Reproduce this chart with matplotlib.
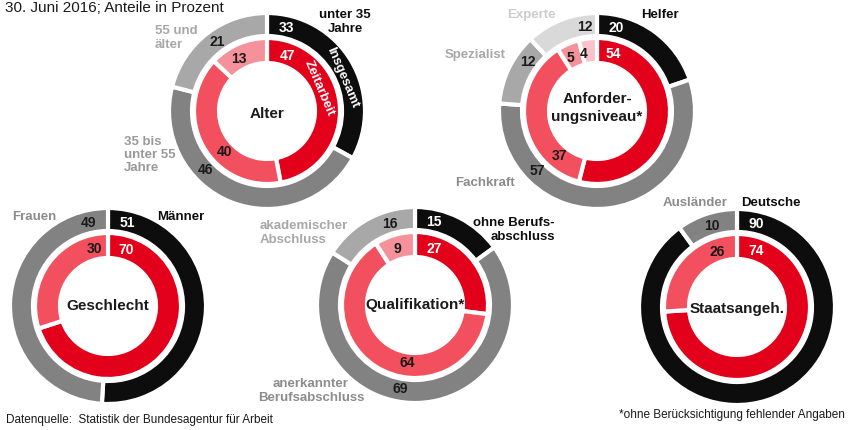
# Zeitarbeit vs. Insgesamt: Anteile in Prozent (Ringdiagramme)

import numpy as np
import matplotlib.pyplot as plt

plt.rcParams["font.family"] = ["Liberation Sans", "DejaVu Sans"]

# ==========================================
# DATOS
# ==========================================
alter_cats = ["unter 35\nJahre", "35 bis\nunter 55\nJahre", "55 und\nälter"]
alter_insgesamt = [33, 46, 21]
alter_zeitarbeit = [47, 40, 13]

anf_cats = ["Helfer", "Fachkraft", "Spezialist", "Experte"]
anf_insgesamt = [20, 57, 12, 12]
anf_zeitarbeit = [54, 37, 5, 4]

geschl_cats = ["Männer", "Frauen"]
geschl_insgesamt = [51, 49]
geschl_zeitarbeit = [70, 30]

quali_cats = ["ohne Berufs-\nabschluss", "anerkannter\nBerufsabschluss", "akademischer\nAbschluss"]
quali_insgesamt = [15, 69, 16]
quali_zeitarbeit = [27, 64, 9]

staat_cats = ["Deutsche", "Ausländer"]
staat_insgesamt = [90, 10]
staat_zeitarbeit = [74, 26]

# ==========================================
# ESTILO
# ==========================================
H = 430
R_OUT = 98
W_OUT = 23
R_IN = 73
W_IN = 25

grises = ["#0d0d0d", "#828282", "#a8a8a8", "#d9d9d9"]
rojos = ["#e2001a", "#f2505f", "#f4919b", "#f8c3c9"]
num_col = ["white", "#1a1a1a", "#1a1a1a", "#1a1a1a"]
txt_grey = ["#0d0d0d", "#8c8c8c", "#a8a8a8", "#cccccc"]

fig = plt.figure(figsize=(8.5, 4.3), dpi=100)
ax = fig.add_axes([0, 0, 1, 1])


def texto(x, y, s, **kw):
    # y en pixeles desde arriba
    ax.text(x, H - y, s, **kw)


def donut(cx, cy, outer, inner, centro, ang_out, ang_in, dy_txt=0):
    cyy = H - cy
    ax.pie(outer, colors=grises[:len(outer)], startangle=90, counterclock=False,
           center=(cx, cyy), radius=R_OUT,
           wedgeprops=dict(width=W_OUT, edgecolor="white", linewidth=3))
    ax.pie(inner, colors=rojos[:len(inner)], startangle=90, counterclock=False,
           center=(cx, cyy), radius=R_IN,
           wedgeprops=dict(width=W_IN, edgecolor="white", linewidth=3))
    for i, (v, a) in enumerate(zip(outer, ang_out)):
        t = np.radians(a)
        ax.text(cx + 85 * np.sin(t), cyy + 85 * np.cos(t), str(v),
                ha="center", va="center", fontsize=10, fontweight="bold",
                color=num_col[i])
    for i, (v, a) in enumerate(zip(inner, ang_in)):
        t = np.radians(a)
        ax.text(cx + 59 * np.sin(t), cyy + 59 * np.cos(t), str(v),
                ha="center", va="center", fontsize=10, fontweight="bold",
                color=num_col[i])
    ax.text(cx, cyy - dy_txt, centro, ha="center", va="center", fontsize=11,
            fontweight="bold", color="#1a1a1a", linespacing=1.3)


donut(267, 111, alter_insgesamt, alter_zeitarbeit, "Alter",
      [13, 226, 324], [20, 226, 331], dy_txt=3)
donut(597, 111, anf_insgesamt, anf_zeitarbeit, "Anforder-\nungsniveau*",
      [13, 225, 305, 352], [16, 220, 333, 347], dy_txt=-3)
donut(108, 306, geschl_insgesamt, geschl_zeitarbeit, "Geschlecht",
      [13, 347], [18, 347])
donut(415, 305, quali_insgesamt, quali_zeitarbeit, "Qualifikation*",
      [13, 190, 343], [19, 188, 343])
donut(737, 307, staat_insgesamt, staat_zeitarbeit, "Staatsangeh.",
      [13, 343], [19, 340], dy_txt=2)

# Etiquetas de los anillos
for r, s, a in [(82, "Insgesamt", 66), (57, "Zeitarbeit", 66)]:
    t = np.radians(a)
    ax.text(267 + r * np.sin(t), H - 111 + r * np.cos(t), s, rotation=-a - 1,
            ha="center", va="center", fontsize=9.5, fontweight="bold",
            color="white", rotation_mode="anchor")

# Etiquetas de categorias
kw = dict(fontsize=9.5, fontweight="bold", linespacing=1.15)
texto(345, 22, alter_cats[0], ha="center", va="center", color=txt_grey[0], **kw)
texto(124, 155, alter_cats[1], ha="left", va="center", color="#999999", **kw)
texto(155, 38, alter_cats[2], ha="left", va="center", color=txt_grey[2], **kw)

texto(660, 15, anf_cats[0], ha="center", va="center", color=txt_grey[0], **kw)
texto(455, 183, anf_cats[1], ha="left", va="center", color=txt_grey[1], **kw)
texto(445, 55, anf_cats[2], ha="left", va="center", color=txt_grey[2], **kw)
texto(531, 15, anf_cats[3], ha="center", va="center", color=txt_grey[3], **kw)

texto(157, 217, geschl_cats[0], ha="left", va="center", color=txt_grey[0], **kw)
texto(12, 217, geschl_cats[1], ha="left", va="center", color=txt_grey[1], **kw)

texto(555, 230, quali_cats[0], ha="right", va="center", color=txt_grey[0], **kw)
texto(311, 391, quali_cats[1], ha="center", va="center", color=txt_grey[1], **kw)
texto(260, 233, quali_cats[2], ha="left", va="center", color=txt_grey[2], **kw)

texto(771, 203, staat_cats[0], ha="center", va="center", color=txt_grey[0], **kw)
texto(695, 203, staat_cats[1], ha="center", va="center", color=txt_grey[1], **kw)

# Titulo y notas
texto(5, 8, "30. Juni 2016; Anteile in Prozent", ha="left", va="center",
      fontsize=11, color="#1a1a1a")
texto(6, 420, "Datenquelle:  Statistik der Bundesagentur für Arbeit", ha="left",
      va="center", fontsize=8.5, color="#1a1a1a")
texto(845, 415, "*ohne Berücksichtigung fehlender Angaben", ha="right",
      va="center", fontsize=8.5, color="#1a1a1a")

ax.set_xlim(0, 850)
ax.set_ylim(0, H)
ax.set_aspect("equal")
ax.axis("off")

plt.savefig("out.png", dpi=100)
